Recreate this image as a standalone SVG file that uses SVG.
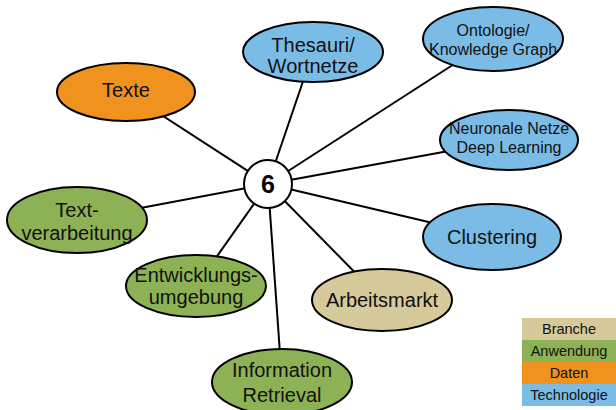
<svg xmlns="http://www.w3.org/2000/svg" width="616" height="410" viewBox="0 0 616 410">
  <style>
    .node ellipse { stroke: #000; stroke-width: 2; }
    .tech { fill: #7bbce6; }
    .app { fill: #8db255; }
    .data { fill: #f0921e; }
    .branch { fill: #d6c99a; }
    .lbl { font-family: "Liberation Sans", Arial, sans-serif; font-size: 20px; fill: #111; text-anchor: middle; }
    .sm { font-size: 16px; }
    .leg { font-family: "Liberation Sans", Arial, sans-serif; font-size: 14.5px; fill: #111; text-anchor: middle; }
    #connectors line { stroke: #000; stroke-width: 2; }
  </style>
  <rect width="616" height="410" fill="#fff"/>

  <g id="connectors">
    <line x1="268" y1="184" x2="126" y2="92"/>
    <line x1="268" y1="184" x2="313" y2="52"/>
    <line x1="268" y1="184" x2="493" y2="39"/>
    <line x1="268" y1="184" x2="509" y2="140"/>
    <line x1="268" y1="184" x2="492" y2="237"/>
    <line x1="268" y1="184" x2="382" y2="300"/>
    <line x1="268" y1="184" x2="282" y2="382"/>
    <line x1="268" y1="184" x2="196" y2="286"/>
    <line x1="268" y1="184" x2="77" y2="220"/>
  </g>

  <g id="texte" class="node">
    <ellipse class="data" cx="126" cy="92" rx="69" ry="29"/>
    <text class="lbl" x="126" y="97">Texte</text>
  </g>
  <g id="thesauri" class="node">
    <ellipse class="tech" cx="313" cy="52" rx="70" ry="30"/>
    <text class="lbl" x="313" y="52">Thesauri/</text>
    <text class="lbl" x="313" y="73">Wortnetze</text>
  </g>
  <g id="ontologie" class="node">
    <ellipse class="tech" cx="493" cy="39" rx="70" ry="32"/>
    <text class="lbl sm" x="493" y="36">Ontologie/</text>
    <text class="lbl sm" x="493" y="55">Knowledge Graph</text>
  </g>
  <g id="neuronale" class="node">
    <ellipse class="tech" cx="509" cy="140" rx="69" ry="30"/>
    <text class="lbl sm" x="509" y="134">Neuronale Netze</text>
    <text class="lbl sm" x="509" y="153">Deep Learning</text>
  </g>
  <g id="clustering" class="node">
    <ellipse class="tech" cx="492" cy="237" rx="69" ry="33"/>
    <text class="lbl" x="492" y="244">Clustering</text>
  </g>
  <g id="arbeitsmarkt" class="node">
    <ellipse class="branch" cx="382" cy="300" rx="70" ry="31"/>
    <text class="lbl" x="382" y="307">Arbeitsmarkt</text>
  </g>
  <g id="retrieval" class="node">
    <ellipse class="app" cx="282" cy="382" rx="70" ry="33"/>
    <text class="lbl" x="282" y="377">Information</text>
    <text class="lbl" x="282" y="402">Retrieval</text>
  </g>
  <g id="entwicklung" class="node">
    <ellipse class="app" cx="196" cy="286" rx="70" ry="31"/>
    <text class="lbl" x="196" y="282">Entwicklungs-</text>
    <text class="lbl" x="196" y="304">umgebung</text>
  </g>
  <g id="textverarbeitung" class="node">
    <ellipse class="app" cx="77" cy="220" rx="70" ry="33"/>
    <text class="lbl" x="77" y="217">Text-</text>
    <text class="lbl" x="77" y="240">verarbeitung</text>
  </g>

  <g id="center" class="node">
    <circle cx="268" cy="184" r="24" fill="#fff" stroke="#000" stroke-width="2"/>
    <text x="268" y="193" font-family="Liberation Sans, Arial, sans-serif" font-size="25" font-weight="bold" text-anchor="middle" fill="#000">6</text>
  </g>

  <g id="legend">
    <rect class="branch" x="522" y="318" width="94" height="22"/>
    <rect class="app" x="522" y="340" width="94" height="22"/>
    <rect class="data" x="522" y="362" width="94" height="22"/>
    <rect class="tech" x="522" y="384" width="94" height="22"/>
    <text class="leg" x="569" y="334">Branche</text>
    <text class="leg" x="569" y="356">Anwendung</text>
    <text class="leg" x="569" y="378">Daten</text>
    <text class="leg" x="569" y="400">Technologie</text>
  </g>
</svg>
